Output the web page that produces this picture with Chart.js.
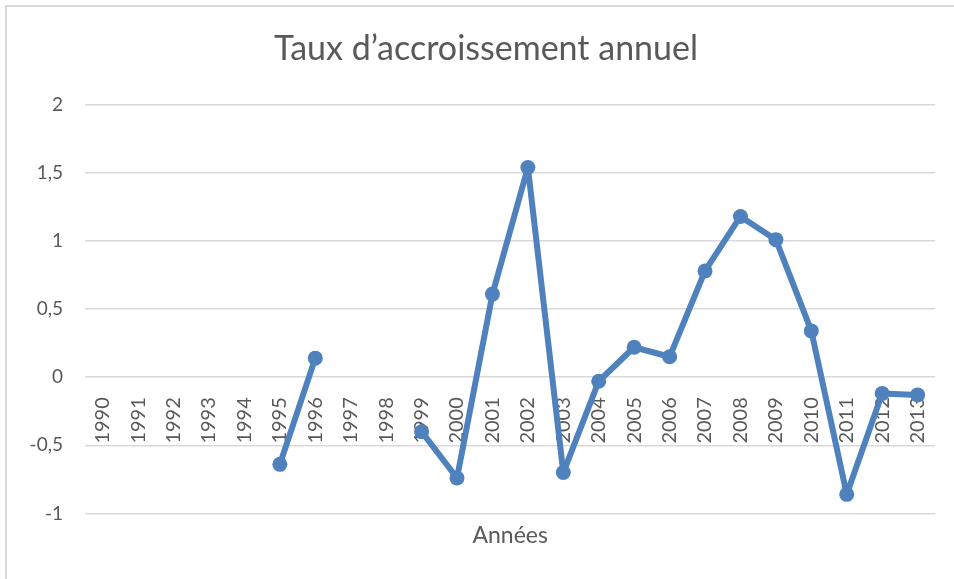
<!DOCTYPE html>
<html>
<head>
<meta charset="utf-8">
<script src="https://cdn.jsdelivr.net/npm/chart.js@4"></script>
<style>
  html, body { margin: 0; padding: 0; background: #fff; overflow: hidden; }
  #wrap { position: relative; width: 954px; height: 579px; }
  #frame {
    position: absolute; left: 5px; top: 5px; width: 980px; height: 600px;
    border: 2px solid #d9d9d9; pointer-events: none;
  }
</style>
</head>
<body>
<div id="wrap">
  <canvas id="chart" width="954" height="579"></canvas>
  <div id="frame"></div>
</div>
<script>
const years = [
  "1990", "1991", "1992", "1993", "1994", "1995", "1996", "1997",
  "1998", "1999", "2000", "2001", "2002", "2003", "2004", "2005",
  "2006", "2007", "2008", "2009", "2010", "2011", "2012", "2013"
];
// taux d'accroissement, null = pas de donnée
const taux = [
  null, null, null, null, null, -0.64, 0.14, null,
  null, -0.40, -0.74, 0.61, 1.54, -0.70, -0.03, 0.22,
  0.15, 0.78, 1.18, 1.01, 0.34, -0.86, -0.12, -0.13
];
const yTicks = [-1, -0.5, 0, 0.5, 1, 1.5, 2];

const FONT = "Lato, 'Open Sans', sans-serif";
const GREY = "#595959";
const BLUE = "#4f81bd";

// the y labels are clipped to the axis box; let them use the left margin too
const widenYLabels = {
  id: "widenYLabels",
  afterLayout(chart) {
    chart.scales.y.left = 0;
  },
};

const ctx = document.getElementById("chart").getContext("2d");
new Chart(ctx, {
  type: "line",
  data: {
    labels: years,
    datasets: [
      {
        label: "Taux",
        data: taux,
        borderColor: BLUE,
        backgroundColor: BLUE,
        borderWidth: 6,
        borderJoinStyle: "round",
        borderCapStyle: "round",
        pointRadius: 7.5,
        pointHoverRadius: 7.5,
        pointBorderWidth: 0,
        spanGaps: false,
        tension: 0,
      },
    ],
  },
  options: {
    responsive: false,
    animation: false,
    layout: {
      padding: { left: 34, right: 16, top: 0, bottom: 0 },
    },
    scales: {
      x: {
        position: { y: 0 },
        offset: true,
        grid: { display: false },
        border: { display: false },
        ticks: {
          color: GREY,
          font: { family: FONT, size: 20 },
          minRotation: 90,
          maxRotation: 90,
          autoSkip: false,
          padding: 12,
        },
      },
      y: {
        min: -1,
        max: 2,
        afterFit: (scale) => { scale.width = 51; },
        afterBuildTicks: (scale) => {
          scale.ticks = yTicks.map((v) => ({ value: v }));
        },
        grid: { color: "#d9d9d9", lineWidth: 1.5, drawTicks: false },
        border: { display: false },
        ticks: {
          color: GREY,
          font: { family: FONT, size: 19 },
          padding: 22,
          callback: (v) => String(v).replace(".", ","),
        },
      },
    },
    plugins: {
      legend: { display: false },
      tooltip: { enabled: false },
      title: {
        display: true,
        text: "Taux d’accroissement annuel",
        color: GREY,
        font: { family: FONT, size: 34, weight: "normal" },
        padding: { top: 29, bottom: 35 },
      },
      subtitle: {
        display: true,
        position: "bottom",
        fullSize: false,
        text: "Années",
        color: GREY,
        font: { family: FONT, size: 23, weight: "normal" },
        padding: { top: 8, bottom: 30 },
      },
    },
  },
  plugins: [widenYLabels],
});
</script>
</body>
</html>
